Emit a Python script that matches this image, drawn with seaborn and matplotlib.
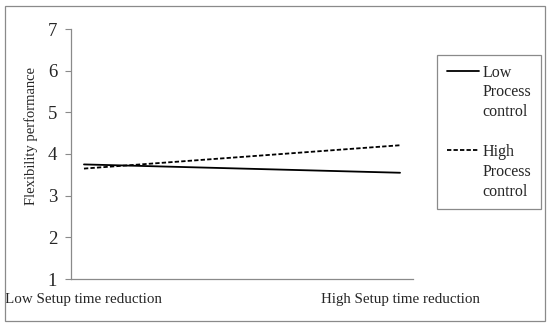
import matplotlib
matplotlib.use("Agg")
import matplotlib.pyplot as plt
import pandas as pd
import seaborn as sns
from matplotlib.lines import Line2D
from matplotlib.patches import Rectangle

setup_levels = ["Low Setup time reduction", "High Setup time reduction"]
process_levels = ["Low", "High"]
low_process = [3.75, 3.55]
high_process = [3.65, 4.21]
y_ticks = [1, 2, 3, 4, 5, 6, 7]

GRAY = "#8a8a8a"


def main() -> None:
    df = pd.DataFrame({
        "setup": list(range(len(setup_levels))) * 2,
        "perf": low_process + high_process,
        "process": [process_levels[0]] * 2 + [process_levels[1]] * 2,
    })

    sns.set_theme(style="white")
    plt.rcParams["font.family"] = ["Liberation Serif", "DejaVu Serif"]

    fig = plt.figure(figsize=(5.5, 3.27), dpi=100)
    ax = fig.add_axes([71 / 550, 1 - 279 / 327, (413 - 71) / 550, (279 - 29) / 327])

    sns.lineplot(
        data=df, x="setup", y="perf", hue="process", style="process",
        palette={"Low": "black", "High": "black"},
        dashes={"Low": "", "High": (2.4, 1.2)},
        linewidth=1.3, ax=ax, legend=True,
    )

    ax.set_xlim(-0.041, 1.041)
    ax.set_ylim(1, 7)
    ax.set_yticks(y_ticks)
    ax.set_yticklabels([str(t) for t in y_ticks], fontsize=13.5)
    ax.set_xticks(range(len(setup_levels)))
    ax.set_xticklabels(setup_levels, fontsize=10.8)
    ax.tick_params(axis="x", length=0, pad=10)
    ax.tick_params(axis="y", length=4, width=0.8, color=GRAY, pad=6, left=True)
    ax.set_xlabel("")
    ax.set_ylabel("Flexibility performance", fontsize=10.5)
    ax.yaxis.set_label_coords(-0.097, 0.572)

    for side in ["top", "right"]:
        ax.spines[side].set_visible(False)
    for side in ["left", "bottom"]:
        ax.spines[side].set_color(GRAY)
        ax.spines[side].set_linewidth(0.9)

    handles, labels = ax.get_legend_handles_labels()
    lookup = dict(zip(labels, handles))
    blank = Line2D([], [], color="none")
    leg_handles = [lookup["Low"], blank, blank, blank, lookup["High"], blank, blank]
    leg_labels = ["Low", "Process", "control", " ", "High", "Process", "control"]
    ax.get_legend().remove()
    fig.legend(
        leg_handles, leg_labels,
        loc="upper left", bbox_to_anchor=(437 / 550, 1 - 55 / 327),
        bbox_transform=fig.transFigure, borderaxespad=0,
        fontsize=11.5, frameon=True, fancybox=False,
        edgecolor=GRAY, framealpha=1, handlelength=2.0,
        handletextpad=0.25, labelspacing=0.24, borderpad=0.6,
    ).get_frame().set_linewidth(0.9)

    fig.patches.append(Rectangle(
        (5 / 550, 6 / 327), 540 / 550, 315 / 327,
        transform=fig.transFigure, fill=False, edgecolor=GRAY, linewidth=0.9,
    ))

    fig.savefig("out.png", dpi=100)
    plt.close(fig)


if __name__ == "__main__":
    main()
